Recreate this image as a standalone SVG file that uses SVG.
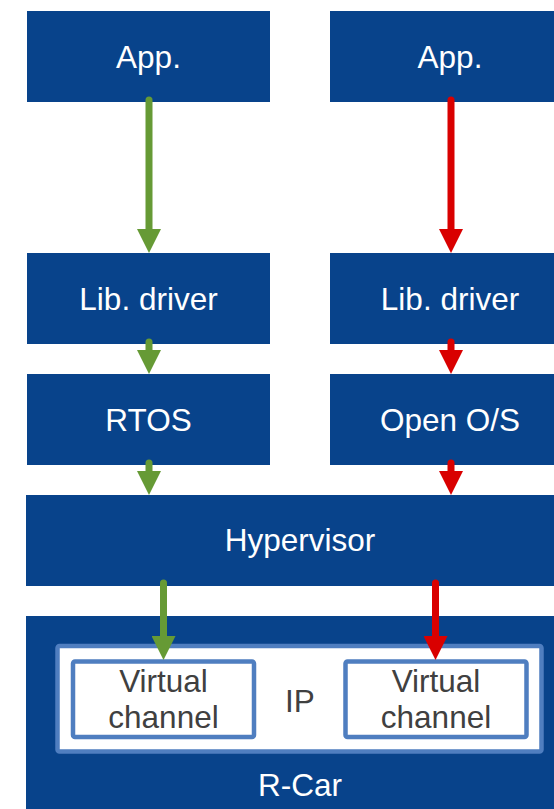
<svg xmlns="http://www.w3.org/2000/svg" width="554" height="809" viewBox="0 0 554 809">
<style>
.box{fill:#08438B}
.lbl{font-family:"Liberation Sans",Arial,sans-serif;font-size:31.5px;fill:#FFFFFF;text-anchor:middle}
.dark{fill:#404040}
.frame{fill:#FFFFFF;stroke:#4F7EC0;stroke-width:4.5}
.g{stroke:#669A35;stroke-width:7;stroke-linecap:round;fill:none}
.r{stroke:#D90000;stroke-width:7;stroke-linecap:round;fill:none}
</style>
<defs>
<marker id="hg" markerUnits="userSpaceOnUse" markerWidth="24" markerHeight="24" refX="12" refY="12" orient="auto" viewBox="0 0 24 24">
<path d="M0,0 L24,12 L0,24 z" fill="#669A35"/>
</marker>
<marker id="hr" markerUnits="userSpaceOnUse" markerWidth="24" markerHeight="24" refX="12" refY="12" orient="auto" viewBox="0 0 24 24">
<path d="M0,0 L24,12 L0,24 z" fill="#D90000"/>
</marker>
</defs>
<rect width="554" height="809" fill="#FFFFFF"/>
<g id="app-left"><rect class="box" x="27" y="11" width="243" height="91"/><text class="lbl" x="148.5" y="68">App.</text></g>
<g id="app-right"><rect class="box" x="330" y="11" width="224" height="91"/><text class="lbl" x="450" y="68">App.</text></g>
<g id="lib-left"><rect class="box" x="27" y="253" width="243" height="91"/><text class="lbl" x="148.5" y="310">Lib. driver</text></g>
<g id="lib-right"><rect class="box" x="330" y="253" width="224" height="91"/><text class="lbl" x="450" y="310">Lib. driver</text></g>
<g id="rtos"><rect class="box" x="27" y="374" width="243" height="91"/><text class="lbl" x="148.5" y="431">RTOS</text></g>
<g id="open-os"><rect class="box" x="330" y="374" width="224" height="91"/><text class="lbl" x="450" y="431">Open O/S</text></g>
<g id="hypervisor"><rect class="box" x="26" y="495" width="528" height="91"/><text class="lbl" x="300" y="551">Hypervisor</text></g>
<g id="rcar"><rect class="box" x="26" y="616" width="528" height="193"/><text class="lbl" x="300" y="796">R-Car</text></g>
<g id="ip"><rect class="frame" x="57.5" y="646" width="484" height="105.5" rx="2"/><text class="lbl dark" x="300" y="712">IP</text></g>
<g id="vc-left"><rect class="frame" x="73" y="661.5" width="181" height="75.5" rx="2"/><text class="lbl dark" x="163.5" y="692">Virtual</text><text class="lbl dark" x="163.5" y="728">channel</text></g>
<g id="vc-right"><rect class="frame" x="345.5" y="661.5" width="181" height="75.5" rx="2"/><text class="lbl dark" x="436" y="692">Virtual</text><text class="lbl dark" x="436" y="728">channel</text></g>
<g id="connectors">
<line class="g" x1="149" y1="100" x2="149" y2="241" marker-end="url(#hg)"/>
<line class="g" x1="149" y1="342" x2="149" y2="362" marker-end="url(#hg)"/>
<line class="g" x1="149" y1="463" x2="149" y2="483" marker-end="url(#hg)"/>
<line class="g" x1="163.5" y1="583" x2="163.5" y2="648" marker-end="url(#hg)"/>
<line class="r" x1="451" y1="100" x2="451" y2="241" marker-end="url(#hr)"/>
<line class="r" x1="451" y1="342" x2="451" y2="362" marker-end="url(#hr)"/>
<line class="r" x1="451" y1="463" x2="451" y2="483" marker-end="url(#hr)"/>
<line class="r" x1="435.5" y1="583" x2="435.5" y2="648" marker-end="url(#hr)"/>
</g>
</svg>
